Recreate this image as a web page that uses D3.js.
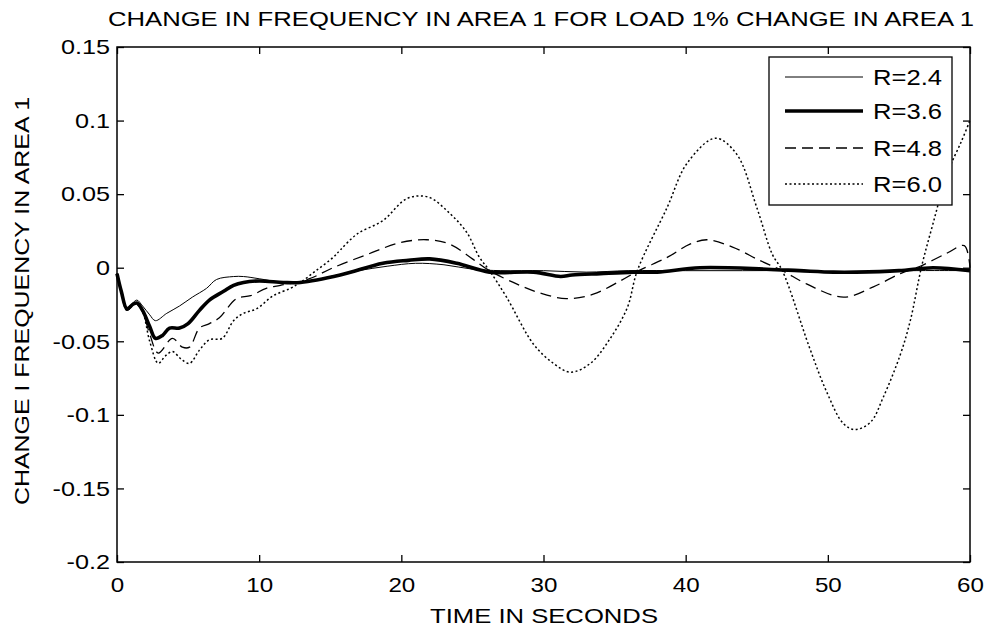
<!DOCTYPE html>
<html>
<head>
<meta charset="utf-8">
<script src="https://cdn.jsdelivr.net/npm/d3@7"></script>
<style>
  body { margin: 0; background: #fff; }
  text { font-family: "Liberation Sans", Arial, sans-serif; fill: #000; }
</style>
</head>
<body>
<div id="chart"></div>
<script>
// data
var xTicks = [0, 10, 20, 30, 40, 50, 60];
var yTicks = [0.15, 0.1, 0.05, 0, -0.05, -0.1, -0.15, -0.2];
var seriesNames = ["R=2.4", "R=3.6", "R=4.8", "R=6.0"];

var t24 = [0, 0.3, 0.7, 1.1, 1.4, 1.8, 2.3, 2.7, 3.5, 4.4, 5.3, 6.3, 7.0, 8.2, 8.9, 10, 11.7, 13, 15, 17, 19, 21, 23, 25, 27, 30, 33, 36, 40, 44, 48, 52, 56, 60];
var v24 = [-0.004, -0.016, -0.027, -0.024, -0.022, -0.026, -0.032, -0.036, -0.031, -0.026, -0.020, -0.014, -0.008, -0.006, -0.006, -0.0075, -0.010, -0.010, -0.006, -0.002, 0.001, 0.003, 0.002, -0.001, -0.002, -0.002, -0.003, -0.002, -0.002, -0.002, -0.002, -0.003, -0.002, -0.002];

var t36 = [0, 0.3, 0.7, 1.1, 1.4, 1.8, 2.3, 2.7, 3.2, 3.7, 4.4, 5.0, 5.8, 6.5, 7.5, 8.2, 8.9, 10, 11.7, 12.9, 15.7, 18.7, 20.5, 22, 23.9, 26.2, 29.3, 31.2, 32, 34, 36.3, 38, 41, 45.7, 48, 50.4, 52, 55, 57.4, 60];
var v36 = [-0.004, -0.016, -0.028, -0.025, -0.024, -0.029, -0.040, -0.048, -0.046, -0.041, -0.041, -0.038, -0.029, -0.022, -0.016, -0.012, -0.010, -0.009, -0.010, -0.010, -0.005, 0.003, 0.005, 0.006, 0.003, -0.003, -0.003, -0.006, -0.005, -0.004, -0.003, -0.003, 0.0, -0.001, -0.002, -0.003, -0.003, -0.002, 0.0, -0.002];

var t48 = [0, 0.3, 0.7, 1.1, 1.4, 1.8, 2.3, 2.9, 3.9, 4.6, 5.1, 5.8, 6.5, 7.2, 8.4, 9.4, 10.5, 11.5, 13.4, 15.2, 17.6, 19.9, 21.8, 23.4, 25, 26.2, 28.1, 29.7, 31.6, 33.5, 35.4, 36.7, 38.7, 40.3, 41.5, 43.3, 45.2, 46.8, 48.5, 51.1, 53.2, 55.1, 56.5, 58.4, 59.6, 60];
var v48 = [-0.004, -0.016, -0.029, -0.026, -0.025, -0.030, -0.045, -0.058, -0.048, -0.054, -0.054, -0.041, -0.038, -0.034, -0.021, -0.019, -0.014, -0.012, -0.008, 0.000, 0.009, 0.017, 0.019, 0.016, 0.006, -0.002, -0.011, -0.017, -0.021, -0.018, -0.009, -0.002, 0.007, 0.016, 0.019, 0.014, 0.005, -0.002, -0.011, -0.020, -0.013, -0.004, 0.001, 0.010, 0.015, 0.0];

var t60 = [0, 0.3, 0.7, 1.3, 1.8, 2.3, 2.9, 3.4, 3.9, 4.5, 5.1, 5.8, 6.5, 7.4, 8.2, 8.9, 9.8, 11, 12.2, 12.9, 14, 15.2, 15.7, 16.9, 18.7, 20.4, 21.9, 23.4, 24.6, 25.5, 26.2, 27.4, 29.3, 30.7, 31.9, 33.3, 34.7, 35.9, 36.6, 38.7, 40.1, 42.1, 43.6, 45, 46.1, 46.8, 48.7, 49.9, 51.1, 51.9, 53, 53.9, 55.1, 55.8, 56.6, 57.4, 58.4, 59.4, 60];
var v60 = [-0.004, -0.016, -0.029, -0.024, -0.030, -0.050, -0.065, -0.060, -0.057, -0.062, -0.065, -0.056, -0.049, -0.048, -0.036, -0.031, -0.028, -0.019, -0.014, -0.010, -0.002, 0.007, 0.012, 0.023, 0.032, 0.047, 0.048, 0.037, 0.024, 0.007, -0.002, -0.020, -0.052, -0.065, -0.071, -0.065, -0.048, -0.027, -0.002, 0.041, 0.071, 0.088, 0.077, 0.041, 0.009, -0.002, -0.054, -0.084, -0.106, -0.110, -0.105, -0.088, -0.059, -0.036, 0.001, 0.030, 0.064, 0.086, 0.100];

var width = 988;
var height = 634;
var plotLeft = 117, plotRight = 970, plotTop = 47, plotBottom = 562;

var svg = d3.select("#chart")
    .append("svg")
    .attr("width", width)
    .attr("height", height);

var xScale = d3.scaleLinear().domain([0, 60]).range([plotLeft, plotRight]);
var yScale = d3.scaleLinear().domain([-0.2, 0.15]).range([plotBottom, plotTop]);

// stretch text a bit wider, the scan has wide glyphs
function stretch(sel, k) {
    sel.each(function() {
        var w = this.getComputedTextLength();
        d3.select(this).attr("textLength", w * k).attr("lengthAdjust", "spacingAndGlyphs");
    });
}

function fmtY(d) {
    if (d === 0) return "0";
    return String(d).replace(/^(-?)0\./, "$10.");
}

//bottom axis, ticks go inward
var xAxis = d3.axisBottom(xScale).tickValues(xTicks).tickSizeInner(-7).tickSizeOuter(0).tickPadding(15);
var gx = svg.append("g")
    .attr("transform", "translate(0," + plotBottom + ")")
    .call(xAxis);

//left axis
var yAxis = d3.axisLeft(yScale).tickValues(yTicks).tickSizeInner(-7).tickSizeOuter(0).tickPadding(7).tickFormat(fmtY);
var gy = svg.append("g")
    .attr("transform", "translate(" + plotLeft + ",0)")
    .call(yAxis);

//top and right ticks, no labels
svg.append("g")
    .attr("transform", "translate(0," + plotTop + ")")
    .call(d3.axisTop(xScale).tickValues(xTicks).tickSizeInner(-7).tickSizeOuter(0).tickFormat(""));
svg.append("g")
    .attr("transform", "translate(" + plotRight + ",0)")
    .call(d3.axisRight(yScale).tickValues(yTicks).tickSizeInner(-7).tickSizeOuter(0).tickFormat(""));

svg.selectAll(".domain").remove();
svg.selectAll(".tick line").attr("stroke", "#000").attr("stroke-width", 1.3);
svg.selectAll(".tick text")
    .style("font-size", "21px")
    .attr("fill", "#000");
stretch(gx.selectAll(".tick text"), 1.15);
stretch(gy.selectAll(".tick text"), 1.2);

// box
svg.append("rect")
    .attr("x", plotLeft)
    .attr("y", plotTop)
    .attr("width", plotRight - plotLeft)
    .attr("height", plotBottom - plotTop)
    .attr("fill", "none")
    .attr("stroke", "#000")
    .attr("stroke-width", 1.5);

// lines
var styles = [
    { w: 1, dash: null },
    { w: 3.6, dash: null },
    { w: 1.3, dash: "11,6" },
    { w: 1.5, dash: "2,2.5" }
];
var allT = [t24, t36, t48, t60];
var allV = [v24, v36, v48, v60];

var line = d3.line()
    .x(function(d) { return xScale(d[0]); })
    .y(function(d) { return yScale(d[1]); })
    .curve(d3.curveCatmullRom.alpha(0.5));

var plot = svg.append("g");
[3, 2, 0, 1].forEach(function(i) {
    var pts = allT[i].map(function(t, j) { return [t, allV[i][j]]; });
    plot.append("path")
        .datum(pts)
        .attr("d", line)
        .attr("fill", "none")
        .attr("stroke", "#000")
        .attr("stroke-width", styles[i].w)
        .attr("stroke-dasharray", styles[i].dash)
        .attr("stroke-linejoin", "round");
});

// legend
var legX = 769, legY = 57, legW = 183, legH = 148;
var legend = svg.append("g");
legend.append("rect")
    .attr("x", legX)
    .attr("y", legY)
    .attr("width", legW)
    .attr("height", legH)
    .attr("fill", "#fff")
    .attr("stroke", "#000")
    .attr("stroke-width", 1.3);

var rowY = [77, 111, 148, 184];
seriesNames.forEach(function(name, i) {
    legend.append("line")
        .attr("x1", 785)
        .attr("x2", 863)
        .attr("y1", rowY[i])
        .attr("y2", rowY[i])
        .attr("stroke", "#000")
        .attr("stroke-width", styles[i].w)
        .attr("stroke-dasharray", styles[i].dash);
    legend.append("text")
        .attr("x", 873)
        .attr("y", rowY[i] + 8)
        .style("font-size", "22px")
        .attr("textLength", 69)
        .attr("lengthAdjust", "spacingAndGlyphs")
        .text(name);
});

// title and axis labels
svg.append("text")
    .attr("x", 541)
    .attr("y", 26)
    .attr("text-anchor", "middle")
    .style("font-size", "21px")
    .attr("textLength", 866)
    .attr("lengthAdjust", "spacingAndGlyphs")
    .text("CHANGE IN FREQUENCY IN AREA 1 FOR LOAD 1% CHANGE IN AREA 1");

svg.append("text")
    .attr("x", 544)
    .attr("y", 623)
    .attr("text-anchor", "middle")
    .style("font-size", "21px")
    .attr("textLength", 228)
    .attr("lengthAdjust", "spacingAndGlyphs")
    .text("TIME IN SECONDS");

svg.append("text")
    .attr("transform", "translate(29,301)rotate(-90)")
    .attr("text-anchor", "middle")
    .style("font-size", "21px")
    .attr("textLength", 408)
    .attr("lengthAdjust", "spacingAndGlyphs")
    .text("CHANGE I FREQUENCY IN AREA 1");
</script>
</body>
</html>
